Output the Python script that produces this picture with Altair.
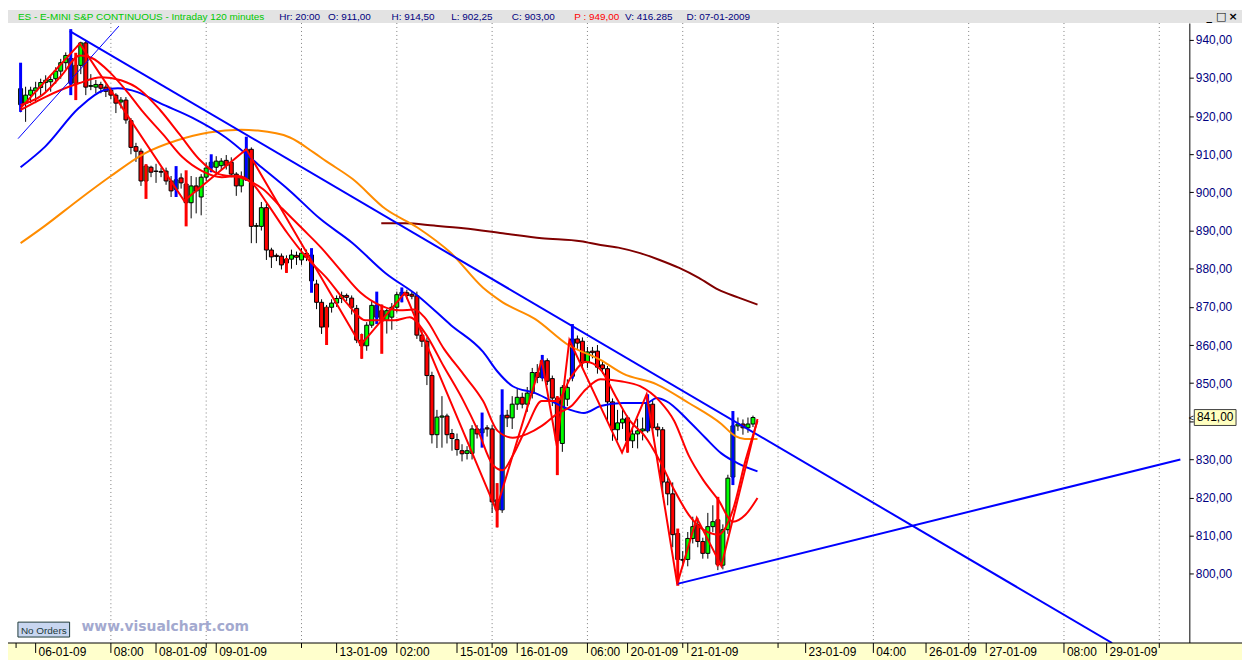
import altair as alt
import pandas as pd

# ---------------- data ----------------
bar_index = list(range(147))
opens = [923.0, 923.4, 925.5, 926.6, 927.5, 928.8, 929.0, 929.8, 931.8, 934.0,
         935.1, 928.6, 933.3, 939.2, 927.8, 927.6, 928.3, 927.6, 926.8, 925.5,
         923.7, 924.2, 918.8, 912.0, 910.8, 903.0, 906.6, 905.6, 905.5, 905.6,
         903.0, 900.8, 903.8, 902.2, 897.3, 901.7, 898.8, 904.0, 906.6, 906.6,
         907.0, 908.4, 907.9, 904.8, 901.7, 903.5, 911.3, 891.1, 891.1, 896.0,
         884.9, 883.5, 883.3, 882.5, 882.5, 883.5, 882.3, 884.0, 883.6, 876.0,
         871.2, 864.7, 869.9, 871.0, 872.2, 873.0, 872.3, 869.6, 861.3, 859.8,
         865.2, 870.4, 869.0, 866.5, 867.3, 869.9, 873.0, 873.7, 873.3, 872.9,
         862.6, 861.0, 852.0, 836.5, 841.1, 841.4, 836.8, 835.2, 832.3, 831.6,
         831.6, 838.0, 837.0, 838.3, 838.0, 819.4, 816.8, 841.6, 840.9, 844.5,
         846.3, 844.5, 847.4, 852.8, 851.5, 855.9, 851.2, 846.1, 834.2, 845.8,
         851.8, 861.6, 861.0, 855.4, 858.4, 858.4, 854.8, 853.8, 845.1, 837.8,
         839.6, 840.9, 834.9, 836.7, 837.5, 837.5, 844.5, 838.5, 837.8, 824.1,
         821.0, 810.6, 803.8, 803.8, 809.3, 812.9, 808.5, 805.4, 812.4, 814.2,
         802.3, 811.6, 825.4, 838.8, 839.3, 838.3, 839.3]
highs = [928.5, 927.7, 927.7, 929.0, 929.8, 930.7, 930.7, 932.8, 935.0, 936.7,
         937.0, 934.5, 939.5, 939.7, 931.0, 929.5, 929.0, 928.3, 927.5, 926.0,
         925.0, 925.0, 919.5, 913.0, 911.5, 907.4, 907.0, 907.5, 906.5, 906.5,
         904.3, 904.5, 905.0, 904.0, 904.3, 904.0, 904.8, 907.8, 908.5, 909.5,
         909.0, 909.8, 909.2, 905.3, 905.5, 911.8, 911.8, 892.0, 897.5, 897.0,
         885.5, 884.0, 884.0, 883.5, 885.0, 884.5, 885.4, 885.0, 884.5, 877.1,
         872.0, 870.5, 872.0, 873.0, 874.0, 873.5, 873.0, 870.5, 863.0, 866.0,
         871.5, 872.0, 870.6, 869.5, 871.0, 874.0, 874.5, 874.5, 874.0, 874.0,
         864.0, 862.0, 853.0, 843.0, 846.6, 842.0, 838.0, 836.8, 834.0, 833.5,
         839.0, 839.0, 840.0, 839.0, 839.0, 823.8, 844.0, 843.0, 846.6, 848.5,
         847.5, 849.0, 854.0, 855.0, 857.4, 856.5, 852.0, 846.6, 849.5, 851.0,
         862.5, 862.5, 862.0, 859.5, 859.5, 860.0, 856.0, 854.5, 846.0, 843.0,
         843.5, 841.5, 838.0, 840.7, 841.0, 846.0, 845.5, 839.5, 838.5, 825.5,
         824.0, 811.0, 806.0, 811.0, 815.0, 814.7, 809.5, 816.0, 818.0, 820.2,
         813.0, 826.0, 840.0, 841.0, 840.5, 841.0, 841.5]
lows = [921.0, 918.5, 923.4, 923.4, 925.5, 926.4, 926.4, 928.5, 929.8, 932.4,
        927.0, 924.5, 931.0, 925.5, 926.8, 926.0, 926.0, 925.0, 924.5, 920.8,
        922.0, 918.0, 910.0, 908.0, 901.7, 900.5, 904.0, 902.5, 904.0, 902.0,
        898.8, 899.5, 901.0, 896.5, 893.2, 894.5, 894.0, 903.0, 905.3, 905.0,
        906.0, 906.0, 904.0, 899.1, 900.0, 903.0, 886.7, 886.7, 890.0, 882.3,
        880.2, 882.0, 879.8, 878.9, 880.0, 881.0, 881.0, 882.0, 874.5, 869.4,
        862.9, 862.0, 868.5, 870.0, 871.0, 871.5, 868.0, 860.5, 856.4, 858.5,
        864.5, 865.5, 862.0, 863.0, 864.0, 868.5, 871.2, 872.0, 872.0, 861.6,
        859.5, 849.5, 834.2, 833.0, 833.1, 834.2, 832.3, 831.0, 829.5, 830.0,
        830.0, 835.5, 834.0, 836.0, 816.0, 812.2, 816.0, 838.5, 838.0, 843.0,
        843.4, 842.5, 846.0, 850.0, 850.5, 849.5, 844.0, 828.0, 832.0, 844.0,
        850.5, 859.0, 854.0, 854.0, 856.5, 852.5, 852.5, 840.1, 834.9, 835.0,
        838.0, 831.8, 833.0, 832.9, 835.0, 837.0, 837.0, 836.0, 820.2, 818.0,
        807.0, 798.0, 802.0, 802.0, 808.0, 807.0, 804.0, 804.0, 811.0, 801.0,
        801.2, 810.5, 823.3, 837.5, 836.5, 837.0, 838.5]
closes = [927.2, 925.5, 926.8, 927.4, 928.8, 929.4, 929.6, 931.8, 934.0, 935.9,
          928.6, 933.3, 939.2, 927.6, 928.0, 928.3, 927.3, 926.5, 925.5, 923.4,
          924.2, 919.0, 911.8, 910.8, 903.0, 906.9, 905.3, 905.5, 905.3, 903.0,
          900.4, 903.3, 902.5, 897.3, 901.7, 900.4, 904.0, 906.4, 907.9, 908.2,
          908.2, 907.1, 904.8, 901.7, 904.0, 911.3, 891.1, 891.3, 896.0, 884.9,
          883.1, 883.2, 881.0, 881.5, 883.6, 883.0, 884.1, 883.0, 876.8, 871.2,
          864.7, 869.9, 871.0, 872.2, 873.0, 872.5, 869.9, 861.3, 859.8, 865.2,
          870.4, 867.3, 866.3, 869.0, 869.9, 873.2, 873.8, 873.0, 872.8, 862.6,
          861.0, 852.0, 836.5, 841.1, 841.4, 836.5, 835.5, 832.6, 831.5, 832.3,
          838.0, 836.7, 838.0, 838.0, 818.9, 816.8, 841.6, 840.9, 844.5, 846.3,
          844.5, 847.4, 852.8, 851.5, 855.9, 850.5, 846.1, 834.9, 848.9, 848.9,
          861.6, 860.5, 855.4, 858.2, 858.0, 854.2, 853.8, 845.1, 837.8, 839.6,
          840.6, 834.9, 836.7, 837.5, 838.0, 844.5, 838.3, 837.8, 824.1, 821.0,
          810.3, 803.8, 803.6, 809.3, 812.4, 808.5, 805.4, 812.4, 813.7, 802.5,
          811.6, 825.1, 838.8, 839.3, 838.3, 839.3, 841.0]

# signal bars (thick coloured ranges)
blue_sig_i = [0, 10, 31, 38, 45, 58, 71, 76, 92, 96, 104, 110, 125, 142]
blue_sig_lo = [921.1, 925.5, 898.8, 905.3, 903.0, 873.7, 865.5, 871.2, 833.1, 816.8, 851.2, 851.2, 837.5, 823.3]
blue_sig_hi = [934.0, 942.8, 906.9, 910.0, 914.6, 885.4, 874.0, 875.1, 842.3, 848.4, 857.4, 865.5, 847.1, 842.7]
red_sig_i = [11, 25, 33, 53, 61, 68, 72, 95, 107, 121, 131, 139]
red_sig_lo = [924.2, 898.3, 891.1, 878.9, 860.0, 856.4, 857.7, 812.2, 825.9, 831.8, 796.9, 802.0]
red_sig_hi = [936.6, 907.4, 905.8, 882.8, 869.9, 862.9, 870.6, 823.8, 846.6, 840.9, 811.9, 820.2]

# moving averages / indicators
fast_i = [0.0, 4.3, 8.2, 11.8, 14.1, 18.0, 21.3, 24.4, 28.4, 32.3, 36.2, 40.1, 43.4, 46.3, 49.2,
          53.2, 57.1, 61.0, 64.9, 68.8, 71.7, 74.6, 77.6, 80.5, 84.4, 88.3, 91.2, 94.2, 96.1,
          98.1, 101.0, 103.9, 106.9, 109.8, 112.7, 115.6, 118.6, 121.5, 124.4, 127.4, 130.3,
          133.2, 136.1, 139.1, 142.0, 144.5, 146.9]
fast_p = [922.9, 925.5, 930.7, 935.9, 935.3, 931.2, 926.3, 921.1, 915.2, 909.2, 905.6, 904.0,
          904.3, 902.2, 897.0, 889.3, 882.8, 877.6, 871.2, 866.5, 866.5, 866.5, 867.3, 863.4,
          854.3, 845.3, 837.5, 828.5, 827.2, 831.0, 838.8, 845.3, 845.3, 851.8, 855.6, 853.6,
          846.6, 840.1, 836.2, 829.7, 822.0, 815.5, 811.6, 810.3, 816.8, 829.7, 840.1]
slow_i = [0.0, 4.9, 11.6, 16.1, 20.0, 23.9, 27.8, 31.7, 35.6, 39.5, 44.0, 48.3, 52.2, 56.1,
          60.0, 63.9, 67.8, 71.7, 75.6, 78.5, 80.5, 84.4, 88.3, 92.2, 95.1, 98.1, 101.0, 103.9,
          106.9, 109.8, 112.7, 115.6, 119.6, 123.5, 127.4, 130.3, 133.2, 136.1, 139.1, 142.0,
          144.5, 146.9]
slow_p = [921.6, 925.0, 928.6, 930.2, 929.4, 926.8, 921.6, 915.2, 908.7, 904.8, 903.8, 900.9,
          895.7, 890.6, 885.4, 879.4, 873.7, 870.4, 869.1, 869.3, 867.3, 859.0, 852.3, 845.3,
          837.5, 835.7, 836.7, 838.8, 841.9, 844.0, 848.4, 851.0, 850.5, 849.2, 845.3, 840.1,
          831.0, 824.6, 819.4, 813.7, 815.5, 819.9]
bluema_i = [0.0, 4.9, 11.6, 16.6, 19.4, 23.3, 27.8, 34.2, 40.9, 47.3, 53.7, 59.6, 66.2, 72.7,
            79.1, 85.8, 92.2, 95.1, 98.1, 102.6, 109.2, 112.3, 115.6, 120.1, 124.8, 126.8,
            128.7, 133.2, 136.5, 139.7, 143.0, 146.9]
bluema_p = [906.6, 912.0, 922.1, 926.8, 927.3, 926.3, 923.4, 919.6, 914.4, 907.4, 900.4, 893.2,
            886.7, 878.9, 873.0, 865.2, 858.2, 853.0, 849.2, 847.4, 843.2, 842.2, 844.0, 844.8,
            844.8, 846.1, 845.3, 840.1, 835.7, 831.6, 829.0, 826.9]
orange_i = [0.0, 4.9, 11.6, 18.0, 24.4, 31.1, 37.5, 44.0, 47.3, 53.7, 58.4, 60.9, 66.2, 72.7,
            79.1, 85.8, 92.2, 96.1, 102.6, 109.2, 115.6, 120.1, 126.8, 133.2, 139.7, 142.4,
            144.4, 146.9]
orange_p = [886.7, 891.3, 898.1, 904.3, 910.0, 913.6, 915.7, 916.4, 916.2, 914.4, 910.5, 908.2,
            903.5, 895.7, 890.8, 884.1, 875.0, 871.2, 866.8, 860.0, 856.1, 852.5, 849.7, 844.8,
            839.3, 836.2, 835.4, 835.4]
darkred_i = [71.9, 76.6, 82.4, 88.3, 96.1, 103.9, 111.7, 115.6, 119.6, 123.5, 127.4, 131.3,
             135.2, 139.1, 143.0, 146.9]
darkred_p = [891.9, 891.9, 891.3, 890.6, 889.3, 888.0, 887.2, 886.2, 885.4, 884.1, 882.3, 880.2,
             877.6, 874.5, 872.5, 870.6]
zigzag_i = [0.0, 11.8, 32.6, 45.0, 67.8, 76.6, 94.8, 103.9, 106.9, 109.4, 119.9, 124.8, 130.9,
            134.8, 139.7, 146.9]
zigzag_p = [922.1, 939.0, 897.8, 911.3, 860.0, 873.7, 816.8, 856.1, 833.6, 861.3, 831.8, 847.1,
            797.4, 814.7, 802.1, 840.6]

# drawn trend lines
trend_i = [9.8, 217.6]
trend_p = [942.3, 781.9]
thin_i = [-0.5, 19.6]
thin_p = [914.1, 943.6]
support_i = [130.9, 231.2]
support_p = [797.4, 830.0]

# axes
price_ticks = [800, 810, 820, 830, 840, 850, 860, 870, 880, 890, 900, 910, 920, 930, 940]
grid_pos = [18, 37, 56, 75, 94, 113, 132, 151, 170, 189, 208, 227]
tick_pos = [-0.9, 3, 18, 27, 37, 39, 56, 63, 75, 87, 94, 99, 113, 121, 132, 133, 151,
            156.5, 170, 180.5, 189, 192.5, 208, 216.5, 227]
tick_labels = ["", "06-01-09", "08:00", "08-01-09", "", "09-01-09", "", "13-01-09", "02:00",
               "15-01-09", "", "16-01-09", "06:00", "20-01-09", "", "21-01-09", "", "23-01-09",
               "04:00", "26-01-09", "", "27-01-09", "08:00", "29-01-09", ""]

header_parts = ["ES - E-MINI S&P CONTINUOUS - Intraday 120 minutes", "Hr: 20:00", "O: 911,00",
                "H: 914,50", "L: 902,25", "C: 903,00", "P : 949,00", "V: 416.285", "D: 07-01-2009"]

# ---------------- layout / styling ----------------
W, H = 1189, 624
TOP, BOTTOM, RIGHT = 13, 17, 53
FULLW = W + RIGHT
NAVY = "#000080"
FONT = "Liberation Sans"
last_close = closes[-1]

xs = alt.Scale(domain=[-1.52, 232.0], nice=False, zero=False)
ys = alt.Scale(domain=[781.9, 944.4], nice=False, zero=False)

# the label hidden behind the last-price box is left blank
yaxis = alt.Axis(orient="right", values=price_ticks,
                 labelExpr=f"abs(datum.value - {last_close}) < 4 ? '' : "
                           "replace(format(datum.value, '.2f'), '.', ',')",
                 grid=False, domainColor="black", domainWidth=1, tickColor="black",
                 tickSize=4, labelColor=NAVY, labelFont=FONT, labelFontSize=12,
                 labelPadding=2, title=None)


def X(f):
    return alt.X(f, type="quantitative", scale=xs, axis=None)


def Y(f):
    return alt.Y(f, type="quantitative", scale=ys, axis=yaxis, title=None)


candles = pd.DataFrame({"i": bar_index, "open": opens, "high": highs,
                        "low": lows, "close": closes})
up_df = candles[candles.close >= candles.open]
dn_df = candles[candles.close < candles.open]

one = pd.DataFrame({"k": [0]})
layers = []

# backgrounds
layers.append(alt.Chart(one).mark_rect(color="#e3e3e3").encode(
    x=alt.value(0), x2=alt.value(FULLW), y=alt.value(-TOP), y2=alt.value(0)))
layers.append(alt.Chart(one).mark_rect(color="#ffffcc").encode(
    x=alt.value(0), x2=alt.value(FULLW), y=alt.value(H), y2=alt.value(H + BOTTOM)))

# grid
layers.append(alt.Chart(pd.DataFrame({"g": grid_pos})).mark_rule(
    color="#808080", strokeDash=[1, 3], strokeWidth=1).encode(x=X("g")))

# candles
layers.append(alt.Chart(candles).mark_rule(color="black", strokeWidth=1).encode(
    x=X("i"), y=Y("low"), y2=alt.Y2("high")))
layers.append(alt.Chart(up_df).mark_bar(size=4, fill="#00ff00", stroke="black", strokeWidth=1).encode(
    x=X("i"), y=Y("open"), y2=alt.Y2("close")))
layers.append(alt.Chart(dn_df).mark_bar(size=4, fill="#ff0000", stroke="black", strokeWidth=1).encode(
    x=X("i"), y=Y("open"), y2=alt.Y2("close")))

# signal bars
layers.append(alt.Chart(pd.DataFrame({"i": blue_sig_i, "lo": blue_sig_lo, "hi": blue_sig_hi}))
              .mark_rule(color="#0000ff", strokeWidth=3).encode(x=X("i"), y=Y("lo"), y2=alt.Y2("hi")))
layers.append(alt.Chart(pd.DataFrame({"i": red_sig_i, "lo": red_sig_lo, "hi": red_sig_hi}))
              .mark_rule(color="#ff0000", strokeWidth=3).encode(x=X("i"), y=Y("lo"), y2=alt.Y2("hi")))


def line(ii, pp, color, width=2, interp="monotone"):
    return alt.Chart(pd.DataFrame({"i": ii, "p": pp})).mark_line(
        color=color, strokeWidth=width, interpolate=interp, clip=True).encode(x=X("i"), y=Y("p"))


layers.append(line(darkred_i, darkred_p, "#800000"))
layers.append(line(orange_i, orange_p, "#ff8c00"))
layers.append(line(bluema_i, bluema_p, "#0000ff"))
layers.append(line(slow_i, slow_p, "#ff0000"))
layers.append(line(fast_i, fast_p, "#ff0000"))
layers.append(line(trend_i, trend_p, "#0000ff", 2, "linear"))
layers.append(line(thin_i, thin_p, "#0000ff", 1, "linear"))
layers.append(line(support_i, support_p, "#0000ff", 2, "linear"))
layers.append(line(zigzag_i, zigzag_p, "#ff0000", 2, "linear"))

# bottom axis line, ticks, labels
layers.append(alt.Chart(one).mark_rule(color="black", strokeWidth=1).encode(
    x=alt.value(0), x2=alt.value(FULLW), y=alt.value(H)))
ticks = pd.DataFrame({"pos": tick_pos, "label": tick_labels})
long_t = ticks[ticks.label != ""]
short_t = ticks[ticks.label == ""]
layers.append(alt.Chart(long_t).mark_rule(color="black").encode(
    x=X("pos"), y=alt.value(H), y2=alt.value(H + 10)))
layers.append(alt.Chart(short_t).mark_rule(color="black").encode(
    x=X("pos"), y=alt.value(H), y2=alt.value(H + 5)))
layers.append(alt.Chart(long_t).mark_text(align="left", baseline="alphabetic", dx=3, font=FONT,
                                          fontSize=12, color="black").encode(
    x=X("pos"), y=alt.value(H + 13), text="label:N"))

# last price box on the right axis
last = pd.DataFrame({"p": [last_close], "t": [f"{last_close:.2f}".replace(".", ",")]})
layers.append(alt.Chart(last).mark_rect(fill="#ffffc0", stroke="#404040", strokeWidth=1,
                                        yOffset=-8, y2Offset=8).encode(
    x=alt.value(W + 5), x2=alt.value(W + 47), y=Y("p"), y2=alt.Y2("p")))
layers.append(alt.Chart(last).mark_text(align="center", baseline="middle", font=FONT,
                                        fontSize=12, color="black").encode(
    x=alt.value(W + 26), y=Y("p"), text="t:N"))
layers.append(alt.Chart(last).mark_text(align="center", baseline="middle", font=FONT,
                                        fontSize=9, color="black").encode(
    x=alt.value(W + 2), y=Y("p"), text=alt.value("<")))

# "No Orders" box and watermark
layers.append(alt.Chart(one).mark_rect(fill="#c8d6f0", stroke="#1e3a3a", strokeWidth=1).encode(
    x=alt.value(10), x2=alt.value(62), y=alt.value(603), y2=alt.value(618)))
layers.append(alt.Chart(one).mark_text(align="center", baseline="alphabetic", font=FONT,
                                       fontSize=10, color="#1c3a3a").encode(
    x=alt.value(36), y=alt.value(614.5), text=alt.value("No Orders")))
layers.append(alt.Chart(one).mark_text(align="left", baseline="alphabetic", font="DejaVu Sans",
                                       fontSize=14, fontWeight="bold", color="#a3a9cf").encode(
    x=alt.value(74), y=alt.value(612), text=alt.value("www.visualchart.com")))

# header texts
header_colors = ["#00c800", NAVY, NAVY, NAVY, NAVY, NAVY, "#ff0000", NAVY, NAVY]
header_x = [10, 273, 322, 386, 446, 507, 570, 621, 683]
for txt, col, hx in zip(header_parts, header_colors, header_x):
    layers.append(alt.Chart(one).mark_text(align="left", baseline="alphabetic", font=FONT,
                                           fontSize=10, color=col).encode(
        x=alt.value(hx), y=alt.value(-3), text=alt.value(txt)))
for g, gx in zip(["_", "\u25a1", "\u00d7"], [1209, 1221, 1233]):
    layers.append(alt.Chart(one).mark_text(align="center", baseline="alphabetic", font="DejaVu Sans",
                                           fontSize=11, fontWeight="bold", color="black").encode(
        x=alt.value(gx), y=alt.value(-3), text=alt.value(g)))

chart = alt.layer(*layers).properties(
    width=W, height=H,
    padding={"left": 0, "right": RIGHT, "top": TOP, "bottom": BOTTOM},
    autosize=alt.AutoSizeParams(type="none"),
    background="white",
).configure_view(stroke=None)

chart.save("out.html", embed_options={"renderer": "svg", "actions": False})
